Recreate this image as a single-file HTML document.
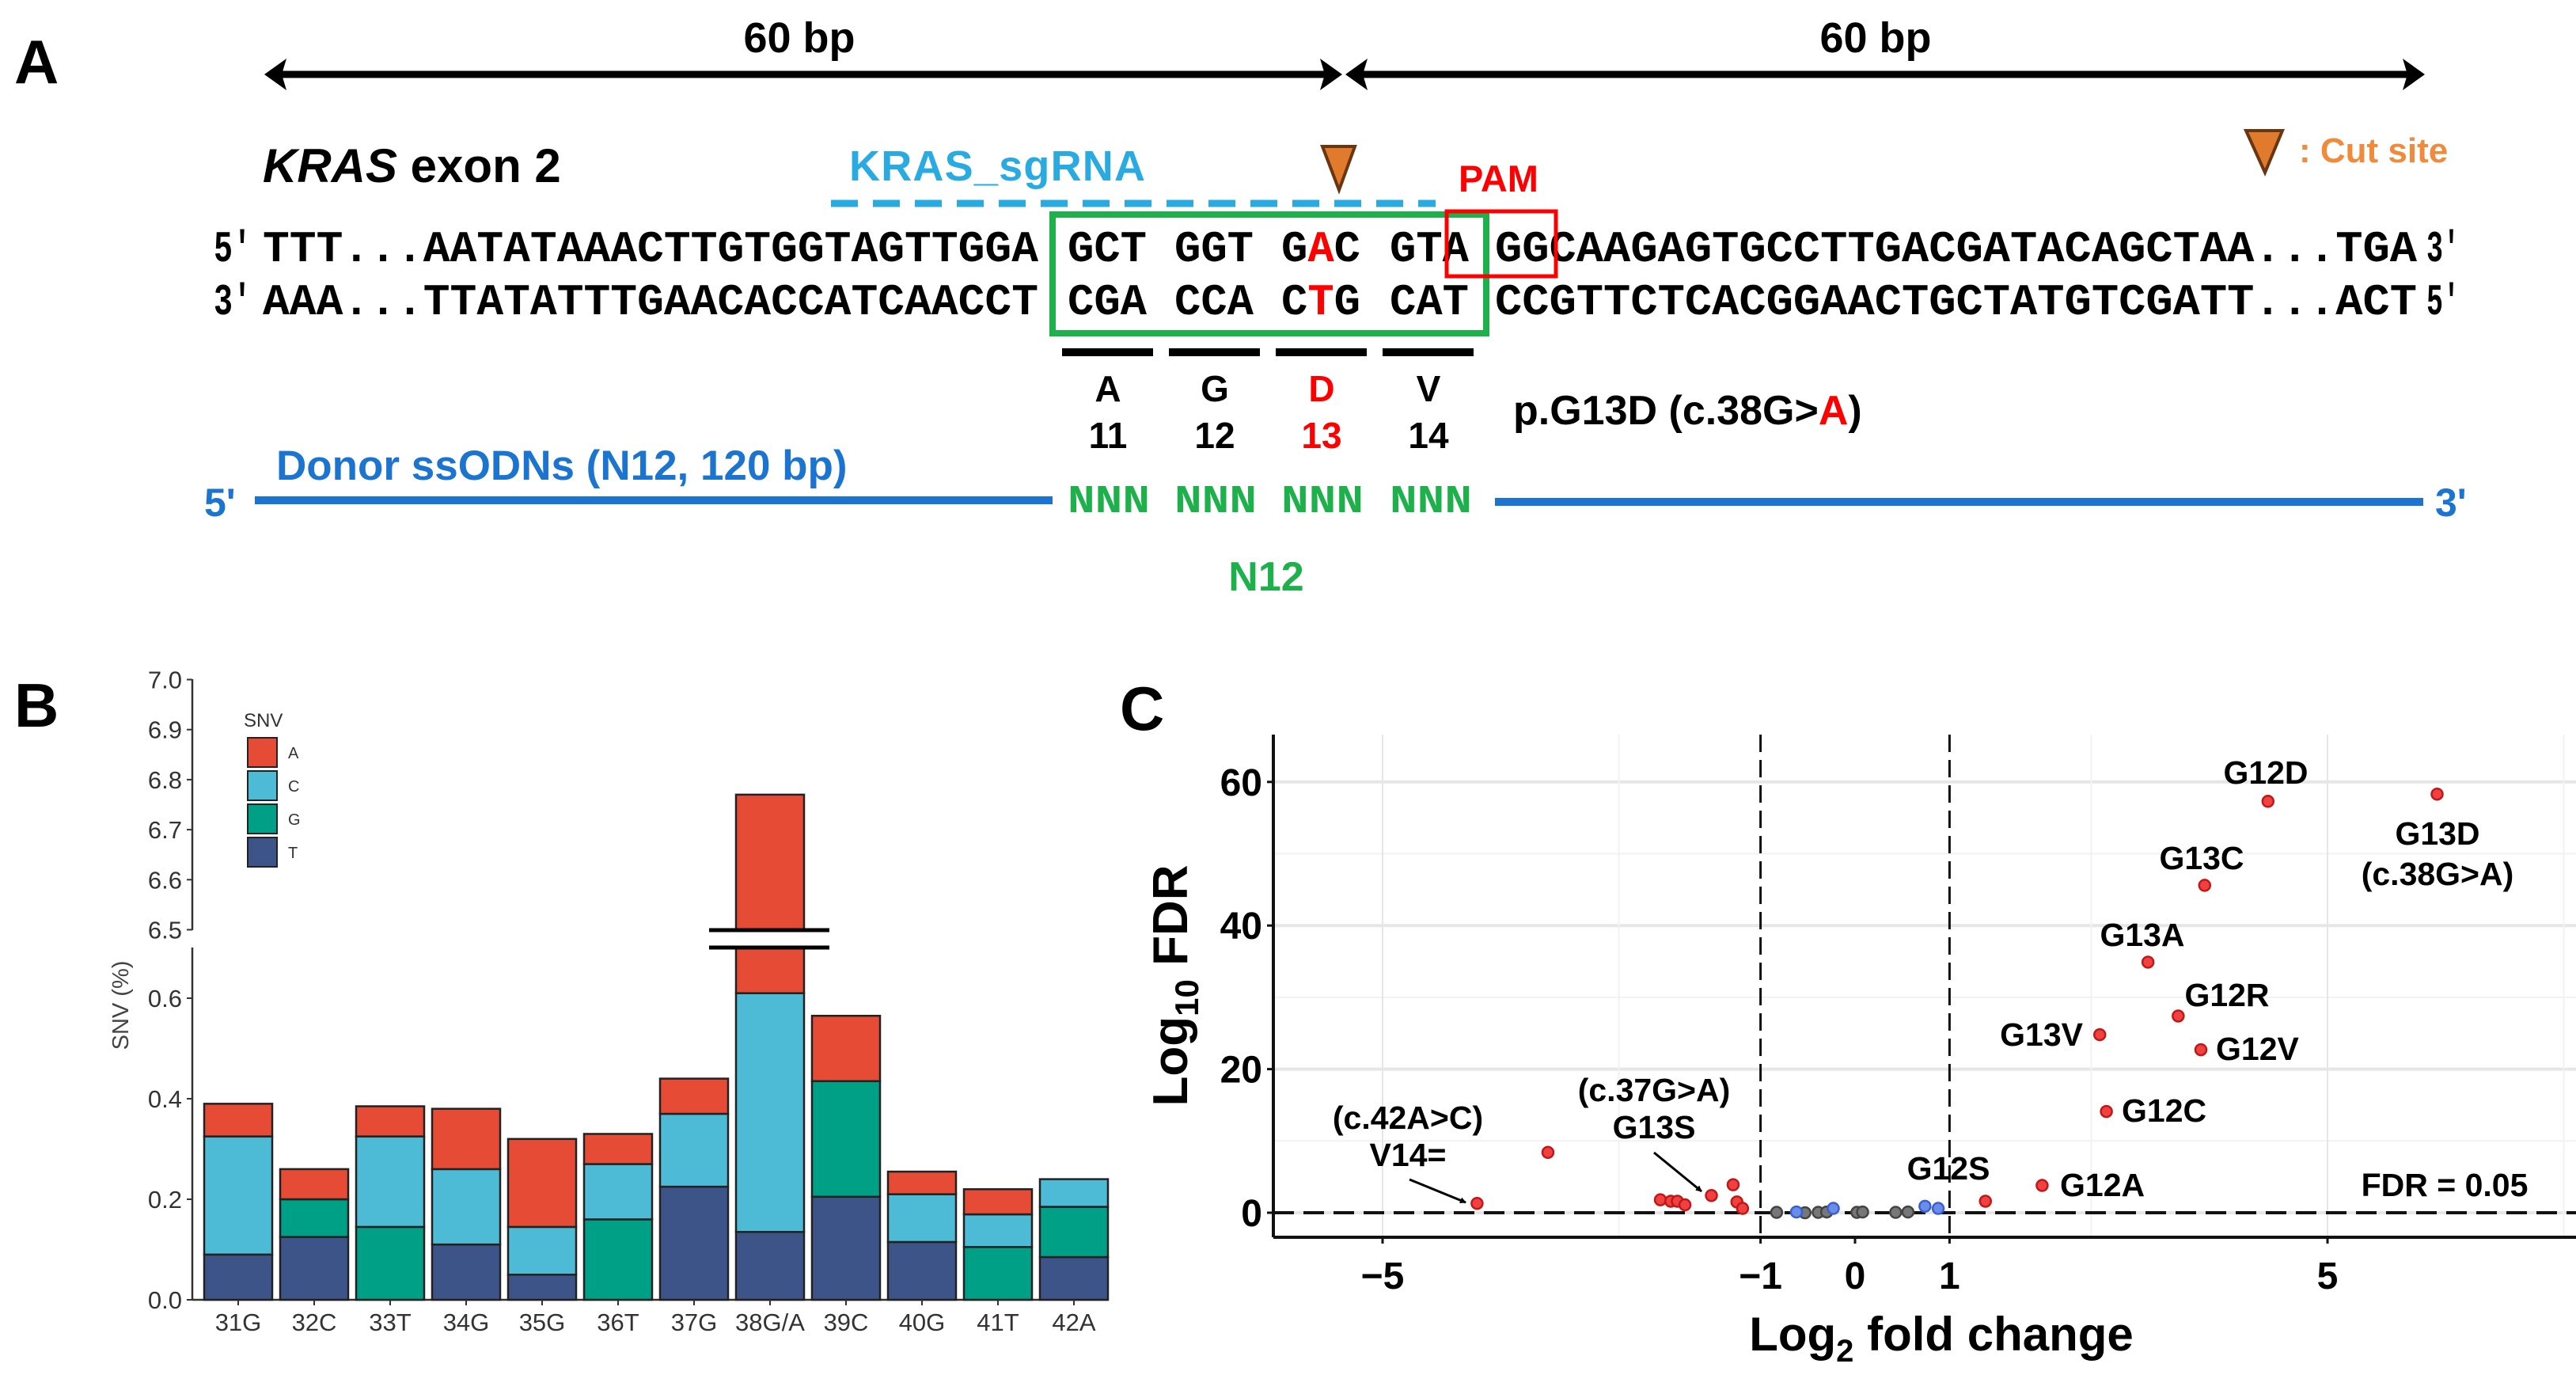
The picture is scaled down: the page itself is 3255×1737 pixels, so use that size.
<!DOCTYPE html>
<html><head><meta charset="utf-8">
<style>
html,body{margin:0;padding:0;background:#fff;}
svg{display:block;}
.mono{font-family:"Liberation Mono","DejaVu Sans Mono",monospace;font-weight:bold;}
.sans{font-family:"Liberation Sans",Arial,sans-serif;}
</style></head>
<body>
<svg id="fig" width="3255" height="1737" viewBox="0 0 3255 1737" xmlns="http://www.w3.org/2000/svg">
<defs>
<marker id="ah" markerWidth="8" markerHeight="8" refX="7" refY="4" orient="auto" markerUnits="userSpaceOnUse">
<path d="M0,0 L8,4 L0,8 z" fill="#000"/></marker>
</defs>

<!-- PANEL A -->
<g>
<text x="18" y="105" class="sans" font-weight="bold" font-size="78">A</text>
<g>
<line x1="350" y1="94" x2="1680" y2="94" stroke="#000" stroke-width="9"/>
<polygon points="334,94 362,74 356,94 362,114" fill="#000"/>
<polygon points="1696,94 1668,74 1674,94 1668,114" fill="#000"/>
</g>
<g>
<line x1="1716" y1="94" x2="3048" y2="94" stroke="#000" stroke-width="9"/>
<polygon points="1700,94 1728,74 1722,94 1728,114" fill="#000"/>
<polygon points="3064,94 3036,74 3042,94 3036,114" fill="#000"/>
</g>
<text x="1010" y="66" text-anchor="middle" class="sans" font-weight="bold" font-size="54">60 bp</text>
<text x="2370" y="66" text-anchor="middle" class="sans" font-weight="bold" font-size="54">60 bp</text>

<text x="332" y="230" class="sans" font-weight="bold" font-size="60"><tspan font-style="italic">KRAS</tspan>  exon 2</text>
<text x="1073" y="228" class="sans" font-weight="bold" font-size="54" fill="#29abe2" textLength="374">KRAS_sgRNA</text>
<line x1="1050" y1="257" x2="1814" y2="257" stroke="#29abe2" stroke-width="9" stroke-dasharray="34,19"/>
<polygon points="1671,185 1712,185 1692,240" fill="#e07b2e" stroke="#6b3510" stroke-width="4"/>
<text x="1843" y="242" class="sans" font-weight="bold" font-size="47" fill="#ff0000">PAM</text>
<polygon points="2838,165 2884,165 2862,218" fill="#e07b2e" stroke="#6b3510" stroke-width="4"/>
<text x="2905" y="205" class="sans" font-weight="bold" font-size="44" fill="#f08a3c">: Cut site</text>

<g class="mono" font-size="56">
<text x="270" y="330" textLength="48" lengthAdjust="spacingAndGlyphs">5'</text>
<text x="332" y="330" textLength="980" lengthAdjust="spacingAndGlyphs">TTT...AATATAAACTTGTGGTAGTTGGA</text>
<text x="1349" y="330" textLength="100" lengthAdjust="spacingAndGlyphs">GCT</text>
<text x="1484" y="330" textLength="100" lengthAdjust="spacingAndGlyphs">GGT</text>
<text x="1619" y="330" textLength="100" lengthAdjust="spacingAndGlyphs">G<tspan fill="#ff0000">A</tspan>C</text>
<text x="1756" y="330" textLength="100" lengthAdjust="spacingAndGlyphs">GTA</text>
<text x="1889" y="330" textLength="1165" lengthAdjust="spacingAndGlyphs">GGCAAGAGTGCCTTGACGATACAGCTAA...TGA</text>
<text x="3066" y="330" textLength="42" lengthAdjust="spacingAndGlyphs">3'</text>
</g>
<g class="mono" font-size="56">
<text x="270" y="397" textLength="48" lengthAdjust="spacingAndGlyphs">3'</text>
<text x="332" y="397" textLength="980" lengthAdjust="spacingAndGlyphs">AAA...TTATATTTGAACACCATCAACCT</text>
<text x="1349" y="397" textLength="100" lengthAdjust="spacingAndGlyphs">CGA</text>
<text x="1484" y="397" textLength="100" lengthAdjust="spacingAndGlyphs">CCA</text>
<text x="1619" y="397" textLength="100" lengthAdjust="spacingAndGlyphs">C<tspan fill="#ff0000">T</tspan>G</text>
<text x="1756" y="397" textLength="100" lengthAdjust="spacingAndGlyphs">CAT</text>
<text x="1889" y="397" textLength="1165" lengthAdjust="spacingAndGlyphs">CCGTTCTCACGGAACTGCTATGTCGATT...ACT</text>
<text x="3066" y="397" textLength="42" lengthAdjust="spacingAndGlyphs">5'</text>
</g>
<rect x="1330" y="271" width="548" height="150" fill="none" stroke="#1db04b" stroke-width="8"/>
<rect x="1828" y="267" width="138" height="82" fill="none" stroke="#ff0000" stroke-width="5"/>
<g fill="#000">
<rect x="1342" y="440" width="115" height="10"/><rect x="1477" y="440" width="115" height="10"/>
<rect x="1612" y="440" width="115" height="10"/><rect x="1747" y="440" width="115" height="10"/>
</g>
<g class="sans" font-weight="bold" font-size="46" text-anchor="middle">
<text x="1400" y="507">A</text><text x="1535" y="507">G</text><text x="1670" y="507" fill="#ff0000">D</text><text x="1805" y="507">V</text>
<text x="1400" y="566">11</text><text x="1535" y="566">12</text><text x="1670" y="566" fill="#ff0000">13</text><text x="1805" y="566">14</text>
</g>
<text x="1912" y="536" class="sans" font-weight="bold" font-size="52">p.G13D (c.38G&gt;<tspan fill="#ff0000">A</tspan>)</text>
<text x="349" y="606" class="sans" font-weight="bold" font-size="53" fill="#1b75d0">Donor ssODNs (N12, 120 bp)</text>
<line x1="322" y1="632" x2="1330" y2="632" stroke="#1b75d0" stroke-width="10"/>
<line x1="1889" y1="634" x2="3062" y2="634" stroke="#1b75d0" stroke-width="10"/>
<text x="258" y="652" class="sans" font-weight="bold" font-size="50" fill="#1b75d0">5'</text>
<text x="3077" y="652" class="sans" font-weight="bold" font-size="50" fill="#1b75d0">3'</text>
<g class="mono" font-size="50" fill="#1db04b">
<text x="1349" y="647" textLength="104" lengthAdjust="spacingAndGlyphs">NNN</text>
<text x="1484" y="647" textLength="104" lengthAdjust="spacingAndGlyphs">NNN</text>
<text x="1619" y="647" textLength="104" lengthAdjust="spacingAndGlyphs">NNN</text>
<text x="1756" y="647" textLength="104" lengthAdjust="spacingAndGlyphs">NNN</text>
</g>
<text x="1600" y="746" text-anchor="middle" class="sans" font-weight="bold" font-size="52" fill="#1db04b">N12</text>
</g>

<!-- PANEL B -->
<g id="pb">
<text x="18" y="918" class="sans" font-weight="bold" font-size="78">B</text>
</g>
<!-- PANEL C -->
<g id="pc">
<text x="1415" y="922" class="sans" font-weight="bold" font-size="78">C</text>
</g>
</svg>

<script>
const NS = "http://www.w3.org/2000/svg";
// ---- Panel B data ----
const snvCategories = ["31G","32C","33T","34G","35G","36T","37G","38G/A","39C","40G","41T","42A"];
const snvT = [0.09,0.125,0,0.11,0.05,0,0.225,0.135,0.205,0.115,0,0.085];
const snvG = [0,0.075,0.145,0,0,0.16,0,0,0.23,0,0.105,0.10];
const snvC = [0.235,0,0.18,0.15,0.095,0.11,0.145,0.475,0,0.095,0.065,0.055];
const snvA = [0.065,0.06,0.06,0.12,0.175,0.06,0.07,6.16,0.13,0.045,0.05,0];
const lowerTicks = ["0.0","0.2","0.4","0.6"];
const upperTicks = ["6.5","6.6","6.7","6.8","6.9","7.0"];
const legendKeys = ["A","C","G","T"];

// ---- Panel C data ----
const volRedX = [-4.0,-3.25,-2.06,-1.95,-1.88,-1.8,-1.52,-1.29,-1.25,-1.19,1.38,1.98,2.66,2.59,3.66,3.42,3.1,3.7,4.37,6.16];
const volRedY = [1.3,8.4,1.8,1.6,1.6,1.1,2.4,3.9,1.5,0.6,1.6,3.8,14.1,24.8,22.7,27.4,34.9,45.6,57.3,58.3];
const volBlueX = [-0.62,-0.23,0.74,0.88];
const volBlueY = [0.1,0.6,0.9,0.6];
const volGrayX = [-0.83,-0.53,-0.39,-0.3,0.02,0.08,0.43,0.56];
const volGrayY = [0.05,0.0,0.05,0.1,0.05,0.1,0.05,0.1];
const xTicks = [-5,-1,0,1,5];
const yTicks = [0,20,40,60];
const fdrLine = 1.3;

function mk(tag, attrs, parent){const e=document.createElementNS(NS,tag);for(const k in attrs)e.setAttribute(k,attrs[k]);parent.appendChild(e);return e;}

// ===== Panel B =====
(function(){
const g=document.getElementById('pb');
const colors={A:"#e64b35",C:"#4dbbd5",G:"#00a087",T:"#3c5488"};
const lowTop=0.70, upBase=6.5, upTop=7.0;
const yLow=v=>1642-635*v;
const yUp=v=>1174.5-632*(v-6.5);
const xC=i=>301+96*i, bw=86;
let ax=mk('line',{x1:243,y1:1197,x2:243,y2:1642,stroke:"#333","stroke-width":2.5},g);

ax=mk('line',{x1:243,y1:858,x2:243,y2:1175,stroke:"#333","stroke-width":2.5},g);

ax=mk('line',{x1:243,y1:1642,x2:1400,y2:1642,stroke:"#333","stroke-width":2.5},g);

lowerTicks.forEach(t=>{const y=yLow(parseFloat(t));
 mk('line',{x1:236,y1:y,x2:243,y2:y,stroke:"#333","stroke-width":2},g);
 const tx=mk('text',{x:230,y:y+11,"text-anchor":"end","font-size":31,fill:"#333",class:"sans"},g);tx.textContent=t;
 });
upperTicks.forEach(t=>{const y=yUp(parseFloat(t));
 mk('line',{x1:236,y1:y,x2:243,y2:y,stroke:"#333","stroke-width":2},g);
 const tx=mk('text',{x:230,y:y+11,"text-anchor":"end","font-size":31,fill:"#333",class:"sans"},g);tx.textContent=t;
 });
const yt=mk('text',{x:0,y:0,transform:"translate(162,1270) rotate(-90)","text-anchor":"middle","font-size":29,fill:"#444",class:"sans"},g);
yt.textContent="SNV (%)";
snvCategories.forEach((c,i)=>{
 const segs=[["T",snvT[i]],["G",snvG[i]],["C",snvC[i]],["A",snvA[i]]];
 let base=0;
 segs.forEach(([k,v])=>{
  if(v<=0) return;
  const a=base,b=base+v; base=b;
  const la=Math.max(a,0), lb=Math.min(b,lowTop);
  if(lb>la){const r=mk('rect',{x:xC(i)-bw/2,y:yLow(lb),width:bw,height:yLow(la)-yLow(lb),fill:colors[k],stroke:"#222","stroke-width":2.5},g);
   }
  const ua=Math.max(a,upBase), ub=Math.min(b,upTop);
  if(ub>ua){const r=mk('rect',{x:xC(i)-bw/2,y:yUp(ub),width:bw,height:yUp(ua)-yUp(ub),fill:colors[k],stroke:"#222","stroke-width":2.5},g);
   }
 });
 mk('line',{x1:xC(i),y1:1642,x2:xC(i),y2:1649,stroke:"#333","stroke-width":2},g);
 const tx=mk('text',{x:xC(i),y:1681,"text-anchor":"middle","font-size":31,fill:"#333",class:"sans"},g);tx.textContent=c;
 
 if(base>lowTop){
  mk('rect',{x:xC(i)-75,y:1176,width:150,height:20,fill:"#fff"},g);
  const l1=mk('line',{x1:xC(i)-77,y1:1175,x2:xC(i)+75,y2:1175,stroke:"#000","stroke-width":5},g);
  
  const l2=mk('line',{x1:xC(i)-77,y1:1197,x2:xC(i)+75,y2:1197,stroke:"#000","stroke-width":5},g);
  
 }
});
const lt=mk('text',{x:308,y:918,"font-size":24,fill:"#333",class:"sans"},g);lt.textContent="SNV";

legendKeys.forEach((k,j)=>{const y=932+42*j;
 const r=mk('rect',{x:313,y:y,width:37,height:37,fill:colors[k],stroke:"#222","stroke-width":2},g);
 
 const t=mk('text',{x:364,y:y+26,"font-size":20,fill:"#333",class:"sans"},g);t.textContent=k;
 });
})();

// ===== Panel C =====
(function(){
const g=document.getElementById('pc');
const px=v=>2344+119.4*v, py=v=>1532-9.07*v;
const L=1609,R=3255,T=928,B=1563;
[10,30,50].forEach(v=>{const l=mk('line',{x1:L,y1:py(v),x2:R,y2:py(v),stroke:"#f2f2f2","stroke-width":2},g);});
yTicks.forEach(v=>{const l=mk('line',{x1:L,y1:py(v),x2:R,y2:py(v),stroke:"#e6e6e6","stroke-width":4},g);});
[-5,-2.5,2.5,5,7.5].forEach(v=>{const l=mk('line',{x1:px(v),y1:T,x2:px(v),y2:B,stroke:Math.abs(v%5)===0?"#e6e6e6":"#f2f2f2","stroke-width":2},g);});
[-1,1].forEach(v=>{const l=mk('line',{x1:px(v),y1:T,x2:px(v),y2:B,stroke:"#111","stroke-width":3,"stroke-dasharray":"22,10"},g);});
let h=mk('line',{x1:L,y1:py(0),x2:R,y2:py(0),stroke:"#111","stroke-width":4,"stroke-dasharray":"26,12"},g);

let a=mk('line',{x1:L,y1:T,x2:L,y2:B,stroke:"#111","stroke-width":4},g);
a=mk('line',{x1:L,y1:B,x2:R,y2:B,stroke:"#111","stroke-width":4},g);
yTicks.forEach(v=>{mk('line',{x1:L-8,y1:py(v),x2:L,y2:py(v),stroke:"#111","stroke-width":3},g);
 const t=mk('text',{x:L-14,y:py(v)+17,"text-anchor":"end","font-size":48,"font-weight":"bold",class:"sans"},g);t.textContent=v;
 });
xTicks.forEach(v=>{mk('line',{x1:px(v),y1:B,x2:px(v),y2:B+8,stroke:"#111","stroke-width":3},g);
 const t=mk('text',{x:px(v),y:1628,"text-anchor":"middle","font-size":48,"font-weight":"bold",class:"sans"},g);t.textContent=(v<0?"\u2212"+Math.abs(v):v);
 });
const xt=mk('text',{x:2453,y:1706,"text-anchor":"middle","font-size":60,"font-weight":"bold",class:"sans"},g);
xt.innerHTML='Log<tspan font-size="40" dy="14">2</tspan><tspan dy="-14"> fold change</tspan>';

const yt=mk('text',{x:0,y:0,transform:"translate(1500,1245) rotate(-90)","text-anchor":"middle","font-size":62,"font-weight":"bold",class:"sans"},g);
yt.innerHTML='Log<tspan font-size="42" dy="14">10</tspan><tspan dy="-14"> FDR</tspan>';

function pts(xs,ys,fill,stroke,name){xs.forEach((x,i)=>{const c=mk('circle',{cx:px(x),cy:py(ys[i]),r:7,fill:fill,stroke:stroke,"stroke-width":2.5},g);
 });}
pts(volGrayX,volGrayY,"#777","#444","point-ns");
pts(volBlueX,volBlueY,"#6a8ee8","#3a5fd0","point-fdr-only");
pts(volRedX,volRedY,"#f04040","#c01818","point-significant");
const labels=[["G12D",2863,990,"middle"],["G13D",3080,1067,"middle"],["(c.38G>A)",3080,1118,"middle"],["G13C",2782,1098,"middle"],
["G13A",2707,1195,"middle"],["G12R",2814,1271,"middle"],["G13V",2632,1321,"end"],["G12V",2800,1339,"start"],["G12C",2681,1417,"start"],
["G12A",2603,1511,"start"],["G12S",2462,1490,"middle"],["FDR = 0.05",3089,1511,"middle"],["(c.37G>A)",2090,1391,"middle"],["G13S",2090,1438,"middle"],
["(c.42A>C)",1779,1426,"middle"],["V14=",1779,1473,"middle"]];
labels.forEach(([s,x,y,an])=>{const t=mk('text',{x:x,y:y,"text-anchor":an,"font-size":41,"font-weight":"bold",class:"sans"},g);t.textContent=s;
 });
let ar=mk('line',{x1:1781,y1:1490,x2:1852,y2:1519,stroke:"#000","stroke-width":3,"marker-end":"url(#ah)"},g);

ar=mk('line',{x1:2090,y1:1456,x2:2150,y2:1505,stroke:"#000","stroke-width":3,"marker-end":"url(#ah)"},g);

})();
</script>
</body></html>
